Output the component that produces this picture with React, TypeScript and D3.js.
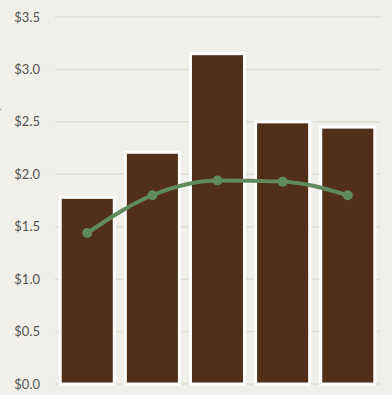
import { useEffect, useRef } from "react";
import * as d3 from "d3";

// ── Data ──────────────────────────────────────────────────────────────────────

const CATEGORIES = ["A", "B", "C", "D", "E"];
const BAR_VALUES = [1.78, 2.21, 3.15, 2.5, 2.45];
const LINE_VALUES = [1.44, 1.8, 1.94, 1.93, 1.8];
const Y_TICKS = [0, 0.5, 1, 1.5, 2, 2.5, 3, 3.5];

// ── Config ────────────────────────────────────────────────────────────────────

const WIDTH = 392;
const HEIGHT = 395;
const BG = "#f0efe9";
const BAR_COLOR = "#512f18";
const LINE_COLOR = "#608b5e";
const FONT = "Lato, 'Open Sans', sans-serif";

const App = () => {
  const svgRef = useRef<SVGSVGElement>(null);

  useEffect(() => {
    document.body.style.margin = "0";
    document.body.style.background = BG;
    if (!svgRef.current) return;

    const svg = d3.select(svgRef.current);
    svg.selectAll("*").remove();

    const x = d3.scaleBand().domain(CATEGORIES).range([55, 380]).paddingInner(0.17).paddingOuter(0.08);
    const y = d3.scaleLinear().domain([0, 3.5]).range([384, 17]);

    svg.append("rect").attr("width", WIDTH).attr("height", HEIGHT).attr("fill", BG);

    // Grid
    svg.append("g")
      .selectAll("line")
      .data(Y_TICKS)
      .join("line")
      .attr("x1", 55)
      .attr("x2", 380)
      .attr("y1", (d) => y(d))
      .attr("y2", (d) => y(d))
      .attr("stroke", "#deddd6")
      .attr("stroke-width", 1.5);

    // Y labels
    svg.append("g")
      .selectAll("text")
      .data(Y_TICKS)
      .join("text")
      .attr("x", 40)
      .attr("y", (d) => y(d))
      .attr("dy", "0.35em")
      .attr("text-anchor", "end")
      .attr("font-family", FONT)
      .attr("font-size", 13)
      .attr("fill", "#555")
      .text((d) => `$${d.toFixed(1)}`);

    // Axis title — sits almost entirely past the left edge, as in the source
    svg.append("text")
      .attr("transform", `translate(-1,105) rotate(-90)`)
      .attr("text-anchor", "middle")
      .attr("font-family", FONT)
      .attr("font-size", 12)
      .attr("fill", "#999")
      .text("Price per unit");

    // Bars
    svg.append("g")
      .selectAll("rect")
      .data(BAR_VALUES)
      .join("rect")
      .attr("x", (_, i) => x(CATEGORIES[i]) ?? 0)
      .attr("y", (d) => y(d))
      .attr("width", x.bandwidth())
      .attr("height", (d) => y(0) - y(d))
      .attr("fill", BAR_COLOR)
      .attr("stroke", "#ffffff")
      .attr("stroke-width", 3);

    // Line
    const cx = (i: number) => (x(CATEGORIES[i]) ?? 0) + x.bandwidth() / 2;
    const line = d3.line<number>()
      .x((_, i) => cx(i))
      .y((d) => y(d))
      .curve(d3.curveMonotoneX);

    svg.append("path")
      .datum(LINE_VALUES)
      .attr("fill", "none")
      .attr("stroke", LINE_COLOR)
      .attr("stroke-width", 4)
      .attr("d", line);

    svg.append("g")
      .selectAll("circle")
      .data(LINE_VALUES)
      .join("circle")
      .attr("cx", (_, i) => cx(i))
      .attr("cy", (d) => y(d))
      .attr("r", 5)
      .attr("fill", LINE_COLOR);
  }, []);

  return <svg ref={svgRef} width={WIDTH} height={HEIGHT} style={{ display: "block" }} />;
};

export default App;
